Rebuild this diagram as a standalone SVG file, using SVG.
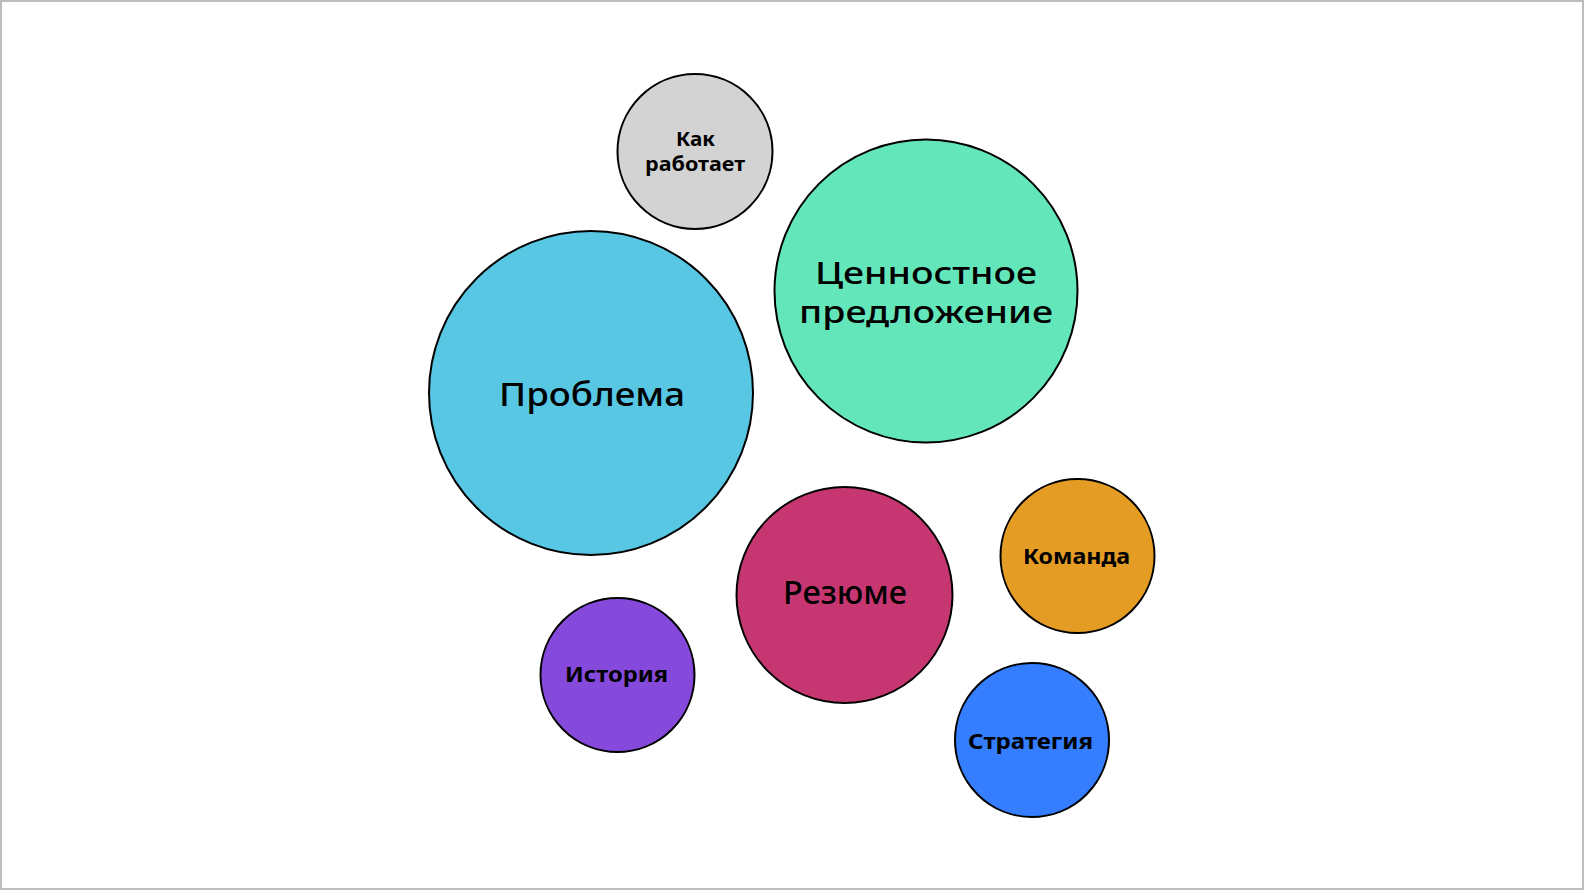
<svg xmlns="http://www.w3.org/2000/svg" width="1584" height="890" viewBox="0 0 1584 890">
<style>
.node{stroke:#000;stroke-width:2}
.t{font-family:"Noto Sans","Liberation Sans",sans-serif;fill:#000;text-anchor:middle}
.big{font-size:33px;font-weight:500}
.two{font-size:31px;font-weight:500}
.small{font-size:22px;font-weight:700}
.kak{font-size:20px;font-weight:700}
</style>
<rect x="1" y="1" width="1582" height="888" fill="#fff" stroke="#bdbdbd" stroke-width="2"/>
<g id="connectors"></g>
<g id="kak-rabotaet">
<circle class="node" cx="695" cy="151.5" r="77.5" fill="#d3d3d3"/>
<text class="t kak" x="695.5" y="146" textLength="39" lengthAdjust="spacingAndGlyphs">Как</text>
<text class="t kak" x="695" y="171" textLength="100" lengthAdjust="spacingAndGlyphs">работает</text>
</g>
<g id="problema">
<circle class="node" cx="591" cy="393" r="162" fill="#58c7e3"/>
<text class="t big" x="592" y="406" textLength="186" lengthAdjust="spacingAndGlyphs">Проблема</text>
</g>
<g id="cennostnoe">
<circle class="node" cx="926" cy="291" r="151.5" fill="#64e6bb"/>
<text class="t two" x="926" y="284" textLength="222" lengthAdjust="spacingAndGlyphs">Ценностное</text>
<text class="t two" x="926" y="323" textLength="254" lengthAdjust="spacingAndGlyphs">предложение</text>
</g>
<g id="rezyume">
<circle class="node" cx="844.5" cy="595" r="108" fill="#c63772"/>
<text class="t big" x="845" y="604" textLength="124" lengthAdjust="spacingAndGlyphs">Резюме</text>
</g>
<g id="komanda">
<circle class="node" cx="1077.5" cy="556" r="77" fill="#e49c25"/>
<text class="t small" x="1076.5" y="564" textLength="107" lengthAdjust="spacingAndGlyphs">Команда</text>
</g>
<g id="istoriya">
<circle class="node" cx="617.5" cy="675" r="77" fill="#8549db"/>
<text class="t small" x="616.5" y="682" textLength="103" lengthAdjust="spacingAndGlyphs">История</text>
</g>
<g id="strategiya">
<circle class="node" cx="1032" cy="740" r="77" fill="#347eff"/>
<text class="t small" x="1030.5" y="749" textLength="125" lengthAdjust="spacingAndGlyphs">Стратегия</text>
</g>
</svg>
